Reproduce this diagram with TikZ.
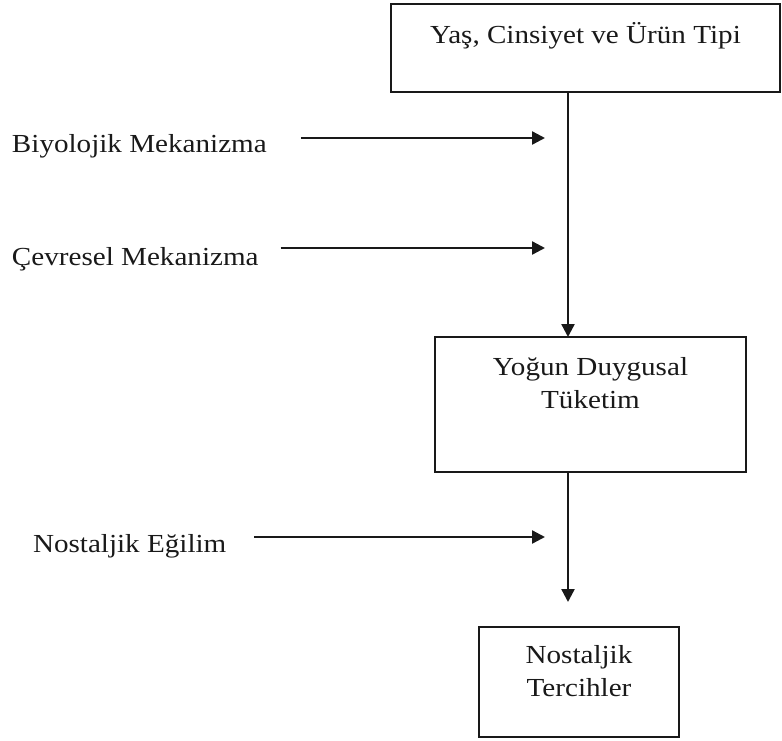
\documentclass[tikz,border=0pt]{standalone}
\usepackage{fontspec}
\setmainfont{Liberation Serif}[FakeStretch=1.12]
\usetikzlibrary{arrows.meta}
\begin{document}
\begin{tikzpicture}[x=0.75pt,y=-0.75pt,
  box/.style={draw=black!90, line width=1.8pt, inner sep=0pt, outer sep=0pt},
  lbl/.style={inner sep=0pt, outer sep=0pt, font=\fontsize{19.5}{25}\selectfont, text=black!90},
  arr/.style={draw=black!90, line width=1.8pt, -{Triangle[length=9.75pt,width=9.75pt]}}]
\useasboundingbox (0,0) rectangle (782,740);
\newcommand{\boxtext}[4]{\parbox[c][#2][t]{#1}{\fontsize{19.5}{25}\selectfont\color{black!90}\centering\rule{0pt}{#3}#4\par}}
% boxes
\node[box, anchor=north west] (top) at (391,4)
  {\boxtext{291.75pt}{66pt}{29.25pt}{Yaş, Cinsiyet ve Ürün Tipi}};
\node[box, anchor=north west] (mid) at (435,337)
  {\boxtext{233.25pt}{101.25pt}{28.5pt}{Yoğun Duygusal\\Tüketim}};
\node[box, anchor=north west] (bot) at (479,627)
  {\boxtext{150pt}{82.5pt}{27pt}{Nostaljik\\Tercihler}};
% labels
\node[lbl, anchor=base west] (bio) at (12,152) {Biyolojik Mekanizma};
\node[lbl, anchor=base west] (cev) at (12,265) {Çevresel Mekanizma};
\node[lbl, anchor=base west] (nos) at (33,552) {Nostaljik Eğilim};
% coordinates
\coordinate (vx) at (568,0);
\coordinate (t2) at (568,602);
\coordinate (a1) at (545,138);
\coordinate (a2) at (545,248);
\coordinate (a3) at (545,537);
% connectors
\draw[arr] (top.south -| vx) -- (mid.north -| vx);
\draw[arr] (mid.south -| vx) -- (t2);
\draw[arr, shorten <=25.5pt] (bio.east |- a1) -- (a1);
\draw[arr, shorten <=16.5pt] (cev.east |- a2) -- (a2);
\draw[arr, shorten <=21pt] (nos.east |- a3) -- (a3);
\end{tikzpicture}
\end{document}
